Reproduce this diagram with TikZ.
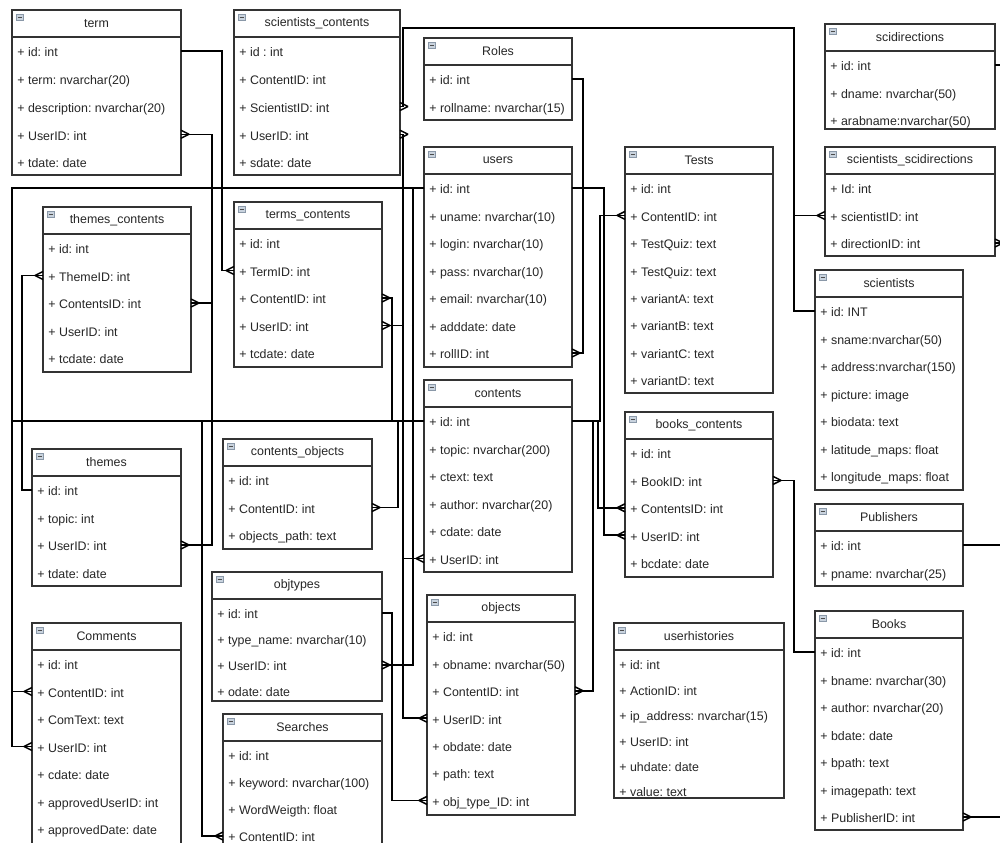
\documentclass[tikz,border=0pt]{standalone}
\usepackage{fontspec}
\setmainfont{Liberation Sans}
\frenchspacing

\definecolor{boxgray}{HTML}{333333}
\definecolor{icongray}{HTML}{C9D3DE}
\definecolor{iconline}{HTML}{8A98A8}
\newcommand\erfont{\fontsize{6.2}{7.4}\selectfont}

\tikzset{
  tablebox/.style={draw=boxgray, line width=0.65pt, fill=white, inner sep=0pt, outer sep=0pt},
  boxline/.style={draw=boxgray, line width=0.65pt},
  iconbox/.style={draw=iconline, fill=icongray, line width=0.3pt},
  iconbar/.style={draw=black!70, line width=0.4pt},
  tabletitle/.style={font=\erfont, text=black!85, inner sep=0pt},
  tablerow/.style={anchor=west, inner sep=0pt, font=\erfont, text=black!85,
                   text height=1.5ex, text depth=0.4ex},
  link/.style={draw=black, line width=0.75pt},
  crowL/.pic={\draw[link] (-8,0) -- (0,-4) (-8,0) -- (0,4);},
  crowR/.pic={\draw[link] (8,0) -- (0,-4) (8,0) -- (0,4);},
}

% name, x, y, width, height, row gap, title, rows
\newcommand{\ertable}[8]{%
  \node[tablebox, minimum width=#4*0.5pt, minimum height=#5*0.5pt, anchor=north west] (#1) at (#2,#3) {};
  \draw[boxline] (#2,#3+27) -- ++(#4,0);
  \draw[iconbox] (#2+4,#3+4) rectangle ++(7,6);
  \draw[iconbar] (#2+5.5,#3+7) -- ++(4,0);
  \node[tabletitle] (#1-t) at (#2+#4/2,#3+13.5) {#7};
  \foreach \r [count=\i] in {#8}
    \node[tablerow] (#1-\i) at (#2+5,#3+41+\i*#6-#6) {\r};
}

\begin{document}
\begin{tikzpicture}[x=0.5pt, y=-0.5pt]
  \useasboundingbox (0,0) rectangle (1000,842);
  \clip (0,0) rectangle (1000,842);

  % tables
  \ertable{term}{12}{10}{169}{165}{27.75}{term}
    {+ id: int, + term: nvarchar(20), + description: nvarchar(20), + UserID: int, + tdate: date}
  \ertable{scicont}{234}{10}{166}{165}{27.75}{scientists\_contents}
    {+ id : int, + ContentID: int, + ScientistID: int, + UserID: int, + sdate: date}
  \ertable{roles}{424}{38}{148}{82}{28}{Roles}
    {+ id: int, + rollname: nvarchar(15)}
  \ertable{users}{424}{147}{148}{220}{27.5}{users}
    {+ id: int, + uname: nvarchar(10), + login: nvarchar(10), + pass: nvarchar(10),
     + email: nvarchar(10), + adddate: date, + rollID: int}
  \ertable{tests}{625}{147}{148}{246}{27.4}{Tests}
    {+ id: int, + ContentID: int, + TestQuiz: text, + TestQuiz: text, + variantA: text,
     + variantB: text, + variantC: text, + variantD: text}
  \ertable{scidir}{825}{24}{170}{105}{27.5}{scidirections}
    {+ id: int, + dname: nvarchar(50), + arabname:nvarchar(50)}
  \ertable{sciscidir}{825}{147}{170}{109}{27.5}{scientists\_scidirections}
    {+ Id: int, + scientistID: int, + directionID: int}
  \ertable{scientists}{815}{270}{148}{220}{27.5}{scientists}
    {+ id: INT, + sname:nvarchar(50), + address:nvarchar(150), + picture: image,
     + biodata: text, + latitude\_maps: float, + longitude\_maps: float}
  \ertable{publishers}{815}{504}{148}{82}{28}{Publishers}
    {+ id: int, + pname: nvarchar(25)}
  \ertable{books}{815}{611}{148}{219}{27.5}{Books}
    {+ id: int, + bname: nvarchar(30), + author: nvarchar(20), + bdate: date,
     + bpath: text, + imagepath: text, + PublisherID: int}
  \ertable{themecont}{43}{207}{148}{165}{27.5}{themes\_contents}
    {+ id: int, + ThemeID: int, + ContentsID: int, + UserID: int, + tcdate: date}
  \ertable{termcont}{234}{202}{148}{165}{27.5}{terms\_contents}
    {+ id: int, + TermID: int, + ContentID: int, + UserID: int, + tcdate: date}
  \ertable{contents}{424}{380}{148}{192}{27.5}{contents}
    {+ id: int, + topic: nvarchar(200), + ctext: text, + author: nvarchar(20),
     + cdate: date, + UserID: int}
  \ertable{bookcont}{625}{412}{148}{165}{27.4}{books\_contents}
    {+ id: int, + BookID: int, + ContentsID: int, + UserID: int, + bcdate: date}
  \ertable{themes}{32}{449}{149}{137}{27.5}{themes}
    {+ id: int, + topic: int, + UserID: int, + tdate: date}
  \ertable{contobj}{223}{439}{149}{110}{27.5}{contents\_objects}
    {+ id: int, + ContentID: int, + objects\_path: text}
  \ertable{objtypes}{212}{572}{170}{129}{26}{objtypes}
    {+ id: int, + type\_name: nvarchar(10), + UserID: int, + odate: date}
  \ertable{searches}{223}{714}{159}{150}{27}{Searches}
    {+ id: int, + keyword: nvarchar(100), + WordWeigth: float, + ContentID: int}
  \ertable{comments}{32}{623}{149}{240}{27.5}{Comments}
    {+ id: int, + ContentID: int, + ComText: text, + UserID: int, + cdate: date,
     + approvedUserID: int, + approvedDate: date}
  \ertable{objects}{427}{595}{148}{220}{27.4}{objects}
    {+ id: int, + obname: nvarchar(50), + ContentID: int, + UserID: int,
     + obdate: date, + path: text, + obj\_type\_ID: int}
  \ertable{userhist}{614}{623}{170}{175}{25.4}{userhistories}
    {+ id: int, + ActionID: int, + ip\_address: nvarchar(15), + UserID: int,
     + uhdate: date, + value: text}

  % users id
  \draw[link] (users.west |- users-1) -- ++(-212,0) |- (term.east |- term-4) pic{crowR};
  \draw[link] (users.west |- users-1) -- ++(-21,0) |- (scicont.east |- scicont-4) pic{crowR};
  \draw[link] (users.west |- users-1) -- ++(-21,0) |- (termcont.east |- termcont-4) pic{crowR};
  \draw[link] (users.west |- users-1) -- ++(-212,0) |- (themes.east |- themes-3) pic{crowR};
  \draw[link] (users.west |- users-1) -- ++(-21,0) |- (contents.west |- contents-6) pic{crowL};
  \draw[link] (users.west |- users-1) -- ++(-11,0) |- (objtypes.east |- objtypes-3) pic{crowR};
  \draw[link] (users.west |- users-1) -- ++(-21,0) |- (objects.west |- objects-4) pic{crowL};
  \draw[link] (users.west |- users-1) -- ++(-412,0) |- (comments.west |- comments-4) pic{crowL};
  \draw[link] (users.east |- users-1) -- ++(32,0) |- (bookcont.west |- bookcont-4) pic{crowL};
  \draw[link] (roles.east |- roles-1) -- ++(11,0) |- (users.east |- users-7) pic{crowR};

  % contents id
  \draw[link] (contents.west |- contents-1) -- ++(-212,0) |- (themecont.east |- themecont-3) pic{crowR};
  \draw[link] (contents.west |- contents-1) -- ++(-32,0) |- (termcont.east |- termcont-3) pic{crowR};
  \draw[link] (contents.west |- contents-1) -- ++(-26,0) |- (contobj.east |- contobj-2) pic{crowR};
  \draw[link] (contents.west |- contents-1) -- ++(-222,0) |- (searches.west |- searches-4) pic{crowL};
  \draw[link] (contents.west |- contents-1) -- ++(-412,0) |- (comments.west |- comments-2) pic{crowL};
  \draw[link] (contents.east |- contents-1) -- ++(28,0) |- (tests.west |- tests-2) pic{crowL};
  \draw[link] (contents.east |- contents-1) -- ++(26,0) |- (bookcont.west |- bookcont-3) pic{crowL};
  \draw[link] (contents.east |- contents-1) -- ++(21,0) |- (objects.east |- objects-3) pic{crowR};

  % other keys
  \draw[link] (term.east |- term-1) -- ++(41,0) |- (termcont.west |- termcont-2) pic{crowL};
  \draw[link] (themes.west |- themes-1) -- ++(-10,0) |- (themecont.west |- themecont-2) pic{crowL};
  \draw[link] (objtypes.east |- objtypes-1) -- ++(10,0) |- (objects.west |- objects-7) pic{crowL};
  \draw[link] (books.west |- books-1) -- ++(-21,0) |- (bookcont.east |- bookcont-2) pic{crowR};
  \draw[link] (publishers.east |- publishers-1) -- ++(47,0) |- (books.east |- books-7) pic{crowR};
  \draw[link] (scientists.west |- scientists-1) -- ++(-21,0) |- (sciscidir.west |- sciscidir-2) pic{crowL};
  \draw[link] (scientists.west |- scientists-1) -- ++(-21,0) -- ++(0,-283) -- ++(-391,0)
    |- (scicont.east |- scicont-3) pic{crowR};
  \draw[link] (scidir.east |- scidir-1) -- ++(15,0) |- (sciscidir.east |- sciscidir-3) pic{crowR};
\end{tikzpicture}
\end{document}
